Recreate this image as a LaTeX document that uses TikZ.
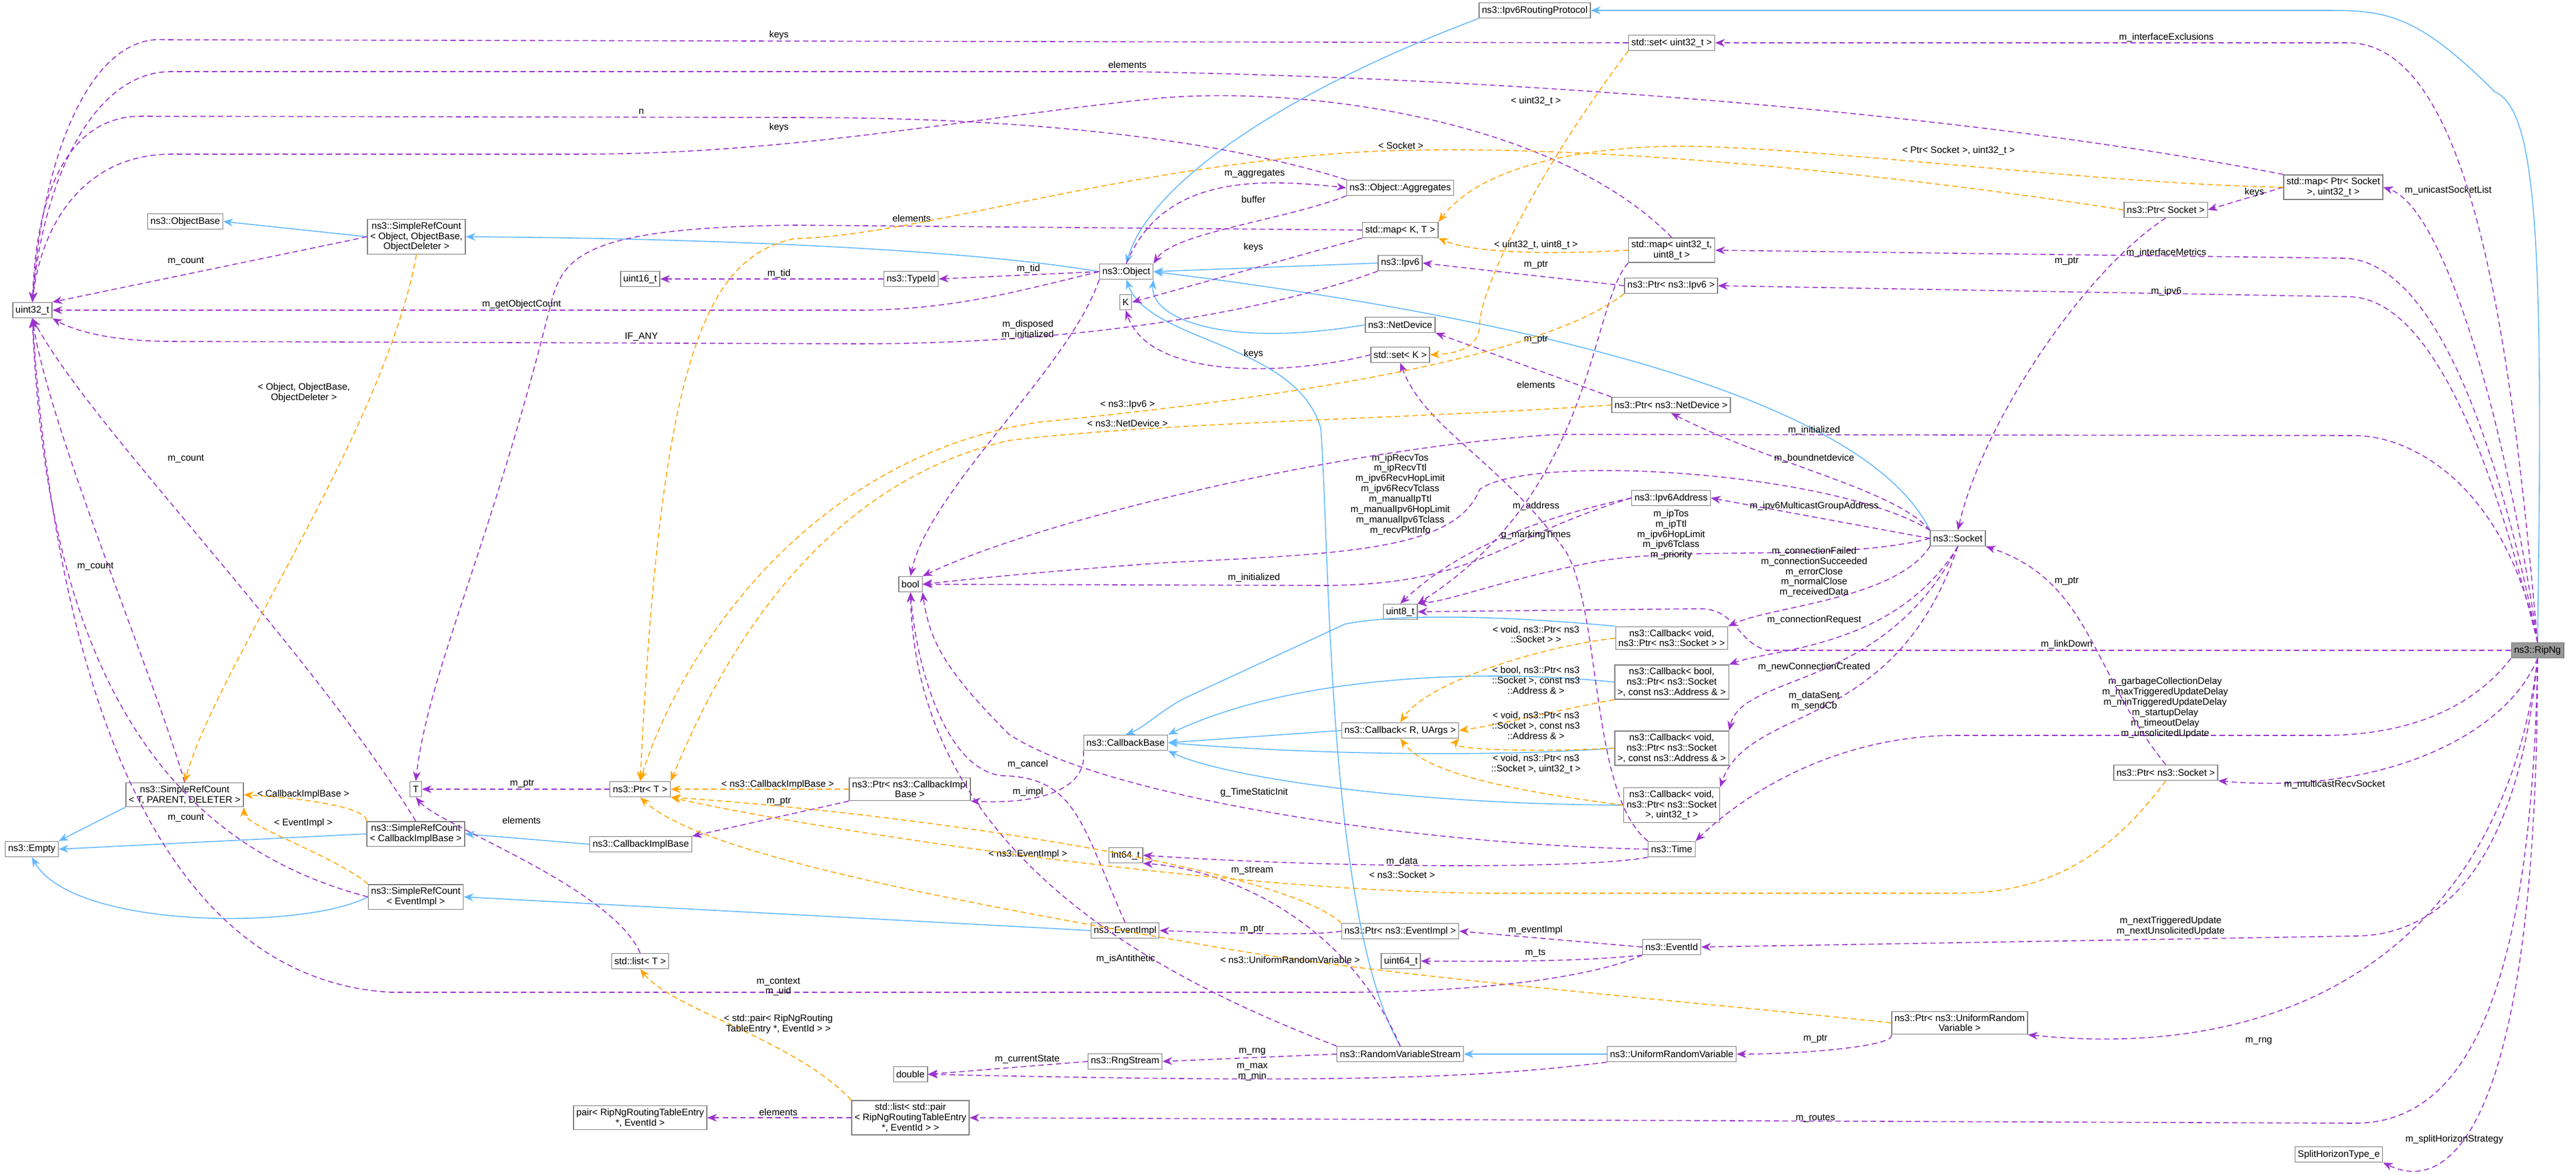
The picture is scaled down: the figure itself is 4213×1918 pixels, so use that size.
\documentclass[tikz,border=0pt]{standalone}
\usepackage{fontspec}
\setmainfont{Liberation Sans}
\usetikzlibrary{arrows.meta}
\definecolor{pu}{HTML}{9A32CD}
\definecolor{or}{HTML}{FFA500}
\definecolor{bl}{HTML}{63B8FF}
\newcommand{\fs}{\fontsize{4.4}{4.8}\selectfont}
\tikzset{
 box/.style={draw=black!50, fill=white, font=\fs, inner sep=1.3pt, minimum height=0.25cm, align=center, line width=0.4pt},
 lbl/.style={font=\fs, inner sep=0pt, align=center},
 use/.style={draw=pu, dashed, dash pattern=on 2.5pt off 1.6pt, line width=0.45pt, -{Stealth[length=4.5pt,width=3.6pt]}},
 tpl/.style={draw=or, dashed, dash pattern=on 2.5pt off 1.6pt, line width=0.45pt, -{Stealth[length=4.5pt,width=3.6pt]}},
 inh/.style={draw=bl, line width=0.45pt, -{Stealth[length=4.5pt,width=3.6pt]}},
}
\begin{document}
\begin{tikzpicture}[x=0.01cm,y=-0.01cm]
\useasboundingbox (0,0) rectangle (4213,1918);
% nodes
\node[box] (u32) at (53,507) {uint32\_t};
\node[box] (objbase) at (303,362) {ns3::ObjectBase};
\node[box] (srcobj) at (681,387) {ns3::SimpleRefCount\\< Object, ObjectBase,\\ObjectDeleter >};
\node[box] (u16) at (1047,456) {uint16\_t};
\node[box] (iv6rp) at (2510,17) {ns3::Ipv6RoutingProtocol};
\node[box] (setu32) at (2734,70) {std::set< uint32\_t >};
\node[box] (aggr) at (2290,307) {ns3::Object::Aggregates};
\node[box] (mapKT) at (2290,376) {std::map< K, T >};
\node[box] (obj) at (1842,444) {ns3::Object};
\node[box] (typeid) at (1490,456) {ns3::TypeId};
\node[box] (ipv6) at (2290,430) {ns3::Ipv6};
\node[box] (K) at (1841,494) {K};
\node[box] (netdev) at (2290,531) {ns3::NetDevice};
\node[box] (setK) at (2290,580) {std::set< K >};
\node[box] (mapu8) at (2734,409) {std::map< uint32\_t,\\uint8\_t >};
\node[box] (ptripv6) at (2733,467) {ns3::Ptr< ns3::Ipv6 >};
\node[box] (ptrnd) at (2733,662) {ns3::Ptr< ns3::NetDevice >};
\node[box] (mapps) at (3816,306) {std::map< Ptr< Socket\\>, uint32\_t >};
\node[box] (ptrsock) at (3542,343) {ns3::Ptr< Socket >};
\node[box] (srcT) at (302,1299) {ns3::SimpleRefCount\\< T, PARENT, DELETER >};
\node[box] (T) at (680,1290) {T};
\node[box] (ptrT) at (1047,1290) {ns3::Ptr< T >};
\node[box] (srccib) at (680,1363) {ns3::SimpleRefCount\\< CallbackImplBase >};
\node[box] (cib) at (1048,1380) {ns3::CallbackImplBase};
\node[box] (empty) at (52,1388) {ns3::Empty};
\node[box] (bool) at (1489,955) {bool};
\node[box] (u8) at (2290,1000) {uint8\_t};
\node[box] (ipv6addr) at (2733,814) {ns3::Ipv6Address};
\node[box] (cb1) at (2734,1043) {ns3::Callback< void,\\ns3::Ptr< ns3::Socket > >};
\node[box] (cb2) at (2734,1115) {ns3::Callback< bool,\\ns3::Ptr< ns3::Socket\\>, const ns3::Address \& >};
\node[box] (cbR) at (2290,1194) {ns3::Callback< R, UArgs >};
\node[box] (cbbase) at (1841,1214) {ns3::CallbackBase};
\node[box] (cb3) at (2734,1223) {ns3::Callback< void,\\ns3::Ptr< ns3::Socket\\>, const ns3::Address \& >};
\node[box] (cb4) at (2734,1316) {ns3::Callback< void,\\ns3::Ptr< ns3::Socket\\>, uint32\_t >};
\node[box] (time) at (2734,1388) {ns3::Time};
\node[box] (ptrcib) at (1488,1290) {ns3::Ptr< ns3::CallbackImpl\\Base >};
\node[box] (i64) at (1841,1398) {int64\_t};
\node[box] (socket) at (3202,880) {ns3::Socket};
\node[box, fill=black!40] (ripng) at (4150,1063) {ns3::RipNg};
\node[box] (ptrnsock) at (3542,1263) {ns3::Ptr< ns3::Socket >};
\node[box] (srcev) at (680,1466) {ns3::SimpleRefCount\\< EventImpl >};
\node[box] (evimpl) at (1840,1521) {ns3::EventImpl};
\node[box] (listT) at (1047,1571) {std::list< T >};
\node[box] (rng) at (1840,1735) {ns3::RngStream};
\node[box] (double) at (1489,1756) {double};
\node[box] (pair) at (1047,1827) {pair< RipNgRoutingTableEntry\\*, EventId >};
\node[box] (listpair) at (1489,1827) {std::list< std::pair\\< RipNgRoutingTableEntry\\*, EventId > >};
\node[box] (ptrev) at (2290,1522) {ns3::Ptr< ns3::EventImpl >};
\node[box] (eventid) at (2734,1548) {ns3::EventId};
\node[box] (u64) at (2291,1571) {uint64\_t};
\node[box] (ptrurv) at (3205,1672) {ns3::Ptr< ns3::UniformRandom\\Variable >};
\node[box] (rvs) at (2290,1723) {ns3::RandomVariableStream};
\node[box] (urv) at (2734,1723) {ns3::UniformRandomVariable};
\node[box] (split) at (3825,1887) {SplitHorizonType\_e};
% blue inheritance
\draw[inh] (srcobj.west) -- (objbase.east);
\draw[inh] (obj.west) .. controls (1600,410) and (1200,390) .. (srcobj.east);
\draw[inh] (iv6rp.south west) .. controls (2100,150) and (1880,300) .. (obj.north);
\draw[inh] (ipv6.west) -- (obj.east);
\draw[inh] (netdev.west) .. controls (2000,570) and (1880,520) .. (obj.south east);
\draw[inh] (socket.north west) .. controls (3050,650) and (2500,520) .. (obj.east);
\draw[inh] (ripng.north) .. controls (4160,400) and (4150,180) .. (4080,150) .. controls (3950,20) and (3900,17) .. (3800,17) -- (iv6rp.east);
\draw[inh] (srcT.south west) -- (empty.north east);
\draw[inh] (srccib.west) -- (empty.east);
\draw[inh] (srcev.west) .. controls (500,1520) and (120,1520) .. (empty.south);
\draw[inh] (cib.west) -- (srccib.east);
\draw[inh] (evimpl.west) -- (srcev.east);
\draw[inh] (cbR.west) -- (cbbase.east);
\draw[inh] (cb1.north west) .. controls (2500,1010) and (2300,1000) .. (2200,1020) -- (1940,1140) .. controls (1900,1160) and (1870,1190) .. (cbbase.north);
\draw[inh] (cb2.west) .. controls (2400,1090) and (2100,1110) .. (cbbase.north east);
\draw[inh] (cb3.west) .. controls (2400,1240) and (2100,1230) .. (cbbase.east);
\draw[inh] (cb4.west) .. controls (2300,1315) and (2000,1270) .. (cbbase.south east);
\draw[inh] (urv.west) -- (rvs.east);
\draw[inh] (rvs.north) .. controls (2170,1500) and (2175,900) .. (2160,700) .. controls (2120,560) and (1880,560) .. (obj.south);
% purple usage
\draw[use] (setu32.west) -- (270,65) .. controls (150,55) and (70,250) .. (u32.north);
\node[lbl] (l1) at (1274,57) {keys};
\draw[use] (mapps.north west) .. controls (3300,200) and (2600,130) .. (1844,117) -- (280,117) .. controls (150,117) and (70,300) .. (u32.north);
\node[lbl] (l2) at (1844,106) {elements};
\draw[use] (aggr.north west) .. controls (2000,230) and (1700,192) .. (1300,192) -- (230,190) .. controls (120,190) and (60,300) .. (u32.north);
\node[lbl] (l3) at (1049,182) {n};
\draw[use] (mapu8.north) .. controls (2550,200) and (2150,140) .. (1900,160) .. controls (1600,190) and (1300,252) .. (950,252) -- (280,252) .. controls (150,252) and (70,350) .. (u32.north);
\node[lbl] (l4) at (1274,208) {keys};
\draw[use] (srcobj.west) -- (u32.north east);
\node[lbl] (l5) at (304,427) {m\_count};
\draw[use] (obj.west) .. controls (1650,480) and (1550,507) .. (1400,507) -- (u32.east);
\node[lbl] (l6) at (853,497) {m\_getObjectCount};
\draw[use] (ipv6.south west) .. controls (2100,500) and (1800,562) .. (1400,562) -- (280,558) .. controls (180,558) and (120,540) .. (u32.south east);
\node[lbl] (l7) at (1049,551) {IF\_ANY};
\draw[use] (srcT.north) .. controls (250,1100) and (80,700) .. (u32.south);
\node[lbl] (l8) at (156,926) {m\_count};
\draw[use] (srccib.north) .. controls (500,1050) and (150,700) .. (u32.south);
\node[lbl] (l9) at (304,750) {m\_count};
\draw[use] (srcev.west) .. controls (350,1400) and (80,1200) .. (u32.south);
\node[lbl] (l10) at (304,1337) {m\_count};
\draw[use] (eventid.south west) .. controls (2600,1600) and (2400,1622) .. (2200,1622) -- (640,1622) .. controls (250,1600) and (90,1100) .. (u32.south);
\node[lbl] (l11) at (1273,1613) {m\_context\\m\_uid};
\draw[use] (obj.west) -- (typeid.east);
\node[lbl] (l12) at (1682,439) {m\_tid};
\draw[use] (typeid.west) -- (u16.east);
\node[lbl] (l13) at (1274,447) {m\_tid};
\draw[use] (obj.north) .. controls (1900,290) and (2050,290) .. (aggr.west);
\node[lbl] (l14) at (2052,284) {m\_aggregates};
\draw[use] (aggr.south west) .. controls (2100,360) and (1920,380) .. (obj.north east);
\node[lbl] (l15) at (2050,326) {buffer};
\draw[use] (mapKT.west) -- (1300,368) .. controls (950,372) and (920,420) .. (900,500) .. controls (800,900) and (700,1100) .. (T.north);
\node[lbl] (l16) at (1491,357) {elements};
\draw[use] (mapKT.south west) -- (K.east);
\node[lbl] (l17) at (2050,404) {keys};
\draw[use] (setK.west) .. controls (2100,615) and (1880,620) .. (K.south);
\node[lbl] (l18) at (2050,578) {keys};
\draw[use] (ptripv6.west) -- (ipv6.east);
\node[lbl] (l19) at (2512,433) {m\_ptr};
\draw[use] (ptrnd.north west) -- (netdev.south east);
\node[lbl] (l20) at (2512,555) {m\_ptr};
\draw[use] (mapu8.south west) .. controls (2600,500) and (2610,800) .. (u8.north east);
\node[lbl] (l21) at (2512,629) {elements};
\draw[use] (obj.south west) .. controls (1750,600) and (1520,800) .. (bool.north);
\node[lbl] (l22) at (1681,539) {m\_disposed\\m\_initialized};
\draw[use] (socket.north west) .. controls (3000,770) and (2500,740) .. (2420,800) .. controls (2380,900) and (2200,905) .. (1900,920) .. controls (1700,935) and (1600,945) .. (bool.east);
\node[lbl] (l23) at (2290,808) {m\_ipRecvTos\\m\_ipRecvTtl\\m\_ipv6RecvHopLimit\\m\_ipv6RecvTclass\\m\_manualIpTtl\\m\_manualIpv6HopLimit\\m\_manualIpv6Tclass\\m\_recvPktInfo};
\draw[use] (ripng.north) .. controls (4100,800) and (3950,712) .. (3850,712) -- (2550,710) .. controls (2200,730) and (1700,850) .. (bool.north east);
\node[lbl] (l24) at (2967,703) {m\_initialized};
\draw[use] (socket.west) -- (ipv6addr.east);
\node[lbl] (l25) at (2967,827) {m\_ipv6MulticastGroupAddress};
\draw[use] (ipv6addr.west) .. controls (2450,860) and (2350,930) .. (u8.north);
\node[lbl] (l26) at (2512,827) {m\_address};
\draw[use] (ipv6addr.west) .. controls (2450,880) and (2420,955) .. (2168,957) -- (bool.east);
\node[lbl] (l27) at (2051,944) {m\_initialized};
\draw[use] (socket.west) .. controls (3000,920) and (2750,890) .. (2600,920) .. controls (2450,950) and (2380,980) .. (u8.north east);
\node[lbl] (l28) at (2733,874) {m\_ipTos\\m\_ipTtl\\m\_ipv6HopLimit\\m\_ipv6Tclass\\m\_priority};
\draw[use] (ripng.west) -- (2890,1063) .. controls (2840,1050) and (2840,995) .. (2780,995) -- (u8.east);
\node[lbl] (l29) at (3380,1053) {m\_linkDown};
\draw[use] (time.north west) .. controls (2600,1300) and (2620,1000) .. (2560,900) .. controls (2450,750) and (2330,700) .. (setK.south);
\node[lbl] (l30) at (2512,874) {g\_markingTimes};
\draw[use] (time.west) .. controls (2300,1380) and (1800,1300) .. (1650,1200) .. controls (1550,1100) and (1520,1050) .. (bool.south east);
\node[lbl] (l31) at (2051,1295) {g\_TimeStaticInit};
\draw[use] (time.south west) .. controls (2600,1420) and (2200,1420) .. (i64.east);
\node[lbl] (l32) at (2293,1408) {m\_data};
\draw[use] (socket.north west) .. controls (3100,800) and (2900,760) .. (ptrnd.south);
\node[lbl] (l33) at (2967,749) {m\_boundnetdevice};
\draw[use] (socket.south west) .. controls (3100,980) and (2900,990) .. (cb1.north east);
\node[lbl] (l34) at (2967,935) {m\_connectionFailed\\m\_connectionSucceeded\\m\_errorClose\\m\_normalClose\\m\_receivedData};
\draw[use] (socket.south) .. controls (3100,1060) and (2900,1060) .. (cb2.north east);
\node[lbl] (l35) at (2967,1013) {m\_connectionRequest};
\draw[use] (socket.south) .. controls (3080,1130) and (2850,1100) .. (cb3.north east);
\node[lbl] (l36) at (2967,1090) {m\_newConnectionCreated};
\draw[use] (socket.south) .. controls (3100,1200) and (2860,1150) .. (cb4.north east);
\node[lbl] (l37) at (2967,1146) {m\_dataSent\\m\_sendCb};
\draw[use] (ripng.south west) .. controls (4050,1150) and (3950,1202) .. (3800,1202) -- (3200,1202) .. controls (3000,1202) and (2850,1300) .. (time.north east);
\node[lbl] (l38) at (3541,1157) {m\_garbageCollectionDelay\\m\_maxTriggeredUpdateDelay\\m\_minTriggeredUpdateDelay\\m\_startupDelay\\m\_timeoutDelay\\m\_unsolicitedUpdate};
\draw[use] (ripng.south) .. controls (4100,1200) and (3900,1300) .. (ptrnsock.south east);
\node[lbl] (l39) at (3818,1282) {m\_multicastRecvSocket};
\draw[use] (ptrnsock.north) .. controls (3420,1100) and (3420,950) .. (socket.south east);
\node[lbl] (l40) at (3380,950) {m\_ptr};
\draw[use] (ptrsock.south) .. controls (3400,450) and (3240,700) .. (socket.north);
\node[lbl] (l41) at (3380,427) {m\_ptr};
\draw[use] (mapps.west) -- (ptrsock.east);
\node[lbl] (l42) at (3687,314) {keys};
\draw[use] (ripng.north) .. controls (4100,700) and (4000,340) .. (mapps.east);
\node[lbl] (l43) at (4004,311) {m\_unicastSocketList};
\draw[use] (ripng.north) .. controls (4110,600) and (4050,70) .. (3840,70) -- (setu32.east);
\node[lbl] (l44) at (3543,61) {m\_interfaceExclusions};
\draw[use] (ripng.north) .. controls (4100,800) and (4000,422) .. (3830,422) -- (mapu8.east);
\node[lbl] (l45) at (3543,413) {m\_interfaceMetrics};
\draw[use] (ripng.north) .. controls (4100,850) and (4000,485) .. (3840,485) -- (ptripv6.east);
\node[lbl] (l46) at (3543,476) {m\_ipv6};
\draw[use] (ripng.south) .. controls (4120,1400) and (4000,1530) .. (3850,1530) -- (eventid.east);
\node[lbl] (l47) at (3550,1514) {m\_nextTriggeredUpdate\\m\_nextUnsolicitedUpdate};
\draw[use] (ripng.south) .. controls (4100,1500) and (3800,1740) .. (ptrurv.south east);
\node[lbl] (l48) at (3694,1702) {m\_rng};
\draw[use] (ripng.south) .. controls (4140,1700) and (4000,1836) .. (3850,1836) -- (listpair.east);
\node[lbl] (l49) at (2969,1828) {m\_routes};
\draw[use] (ripng.south) .. controls (4150,1800) and (4020,1960) .. (split.south east);
\node[lbl] (l50) at (4014,1862) {m\_splitHorizonStrategy};
\draw[use] (ptrT.west) -- (T.east);
\node[lbl] (l51) at (854,1281) {m\_ptr};
\draw[use] (listT.north) .. controls (1000,1450) and (720,1350) .. (T.south);
\node[lbl] (l52) at (853,1341) {elements};
\draw[use] (ptrcib.south west) -- (cib.north east);
\node[lbl] (l53) at (1274,1310) {m\_ptr};
\draw[use] (cbbase.south west) .. controls (1780,1290) and (1700,1315) .. (ptrcib.south east);
\node[lbl] (l54) at (1681,1294) {m\_impl};
\draw[use] (evimpl.north) .. controls (1770,1350) and (1760,1270) .. (1640,1268) .. controls (1550,1260) and (1500,1100) .. (bool.south);
\node[lbl] (l55) at (1681,1249) {m\_cancel};
\draw[use] (rvs.north west) .. controls (1900,1600) and (1500,1400) .. (bool.south);
\node[lbl] (l56) at (1841,1567) {m\_isAntithetic};
\draw[use] (rvs.north) .. controls (2200,1500) and (2000,1420) .. (i64.south east);
\node[lbl] (l57) at (2048,1423) {m\_stream};
\draw[use] (rvs.west) -- (rng.east);
\node[lbl] (l58) at (2048,1719) {m\_rng};
\draw[use] (rng.west) -- (double.east);
\node[lbl] (l59) at (1680,1732) {m\_currentState};
\draw[use] (urv.south west) .. controls (2400,1765) and (2150,1770) .. (double.east);
\node[lbl] (l60) at (2048,1752) {m\_max\\m\_min};
\draw[use] (ptrurv.south west) .. controls (3100,1710) and (2950,1723) .. (urv.east);
\node[lbl] (l61) at (2969,1698) {m\_ptr};
\draw[use] (ptrev.west) .. controls (2150,1530) and (2000,1525) .. (evimpl.east);
\node[lbl] (l62) at (2048,1519) {m\_ptr};
\draw[use] (eventid.west) -- (ptrev.east);
\node[lbl] (l63) at (2511,1520) {m\_eventImpl};
\draw[use] (eventid.south west) .. controls (2600,1570) and (2500,1572) .. (u64.east);
\node[lbl] (l64) at (2511,1558) {m\_ts};
\draw[use] (listpair.west) -- (pair.east);
\node[lbl] (l65) at (1273,1818) {elements};
% orange templates
\draw[tpl] (srcobj.south) .. controls (630,700) and (350,1100) .. (srcT.north);
\node[lbl] (l66) at (497,642) {< Object, ObjectBase,\\ObjectDeleter >};
\draw[tpl] (srccib.north west) .. controls (600,1320) and (500,1305) .. (srcT.east);
\node[lbl] (l67) at (496,1298) {< CallbackImplBase >};
\draw[tpl] (srcev.north west) .. controls (550,1400) and (400,1350) .. (srcT.south east);
\node[lbl] (l68) at (496,1345) {< EventImpl >};
\draw[tpl] (setu32.south west) .. controls (2500,300) and (2420,480) .. (2420,530) .. controls (2420,570) and (2380,578) .. (setK.east);
\node[lbl] (l69) at (2512,165) {< uint32\_t >};
\draw[tpl] (mapu8.west) .. controls (2500,418) and (2400,410) .. (mapKT.south east);
\node[lbl] (l70) at (2512,400) {< uint32\_t, uint8\_t >};
\draw[tpl] (mapps.west) .. controls (3400,300) and (2900,230) .. (2700,240) .. controls (2500,250) and (2400,300) .. (mapKT.north east);
\node[lbl] (l71) at (3203,246) {< Ptr< Socket >, uint32\_t >};
\draw[tpl] (ptrsock.west) .. controls (3000,270) and (2500,230) .. (2200,250) .. controls (1800,280) and (1500,385) .. (1300,390) .. controls (1150,420) and (1080,600) .. (ptrT.north);
\node[lbl] (l72) at (2291,238) {< Socket >};
\draw[tpl] (ptripv6.south west) .. controls (2500,600) and (2000,660) .. (1700,690) .. controls (1300,750) and (1100,1100) .. (ptrT.north);
\node[lbl] (l73) at (1844,662) {< ns3::Ipv6 >};
\draw[tpl] (ptrnd.west) .. controls (2300,685) and (1900,690) .. (1650,720) .. controls (1300,800) and (1150,1150) .. (ptrT.north east);
\node[lbl] (l74) at (1844,692) {< ns3::NetDevice >};
\draw[tpl] (ptrcib.west) -- (ptrT.east);
\node[lbl] (l75) at (1272,1282) {< ns3::CallbackImplBase >};
\draw[tpl] (ptrev.north west) .. controls (2100,1420) and (1500,1330) .. (ptrT.south east);
\node[lbl] (l76) at (1681,1396) {< ns3::EventImpl >};
\draw[tpl] (ptrnsock.south) .. controls (3450,1400) and (3350,1460) .. (3200,1460) -- (2450,1460) .. controls (2000,1460) and (1300,1350) .. (ptrT.south east);
\node[lbl] (l77) at (2293,1430) {< ns3::Socket >};
\draw[tpl] (ptrurv.west) .. controls (2800,1640) and (2300,1600) .. (2000,1550) .. controls (1600,1480) and (1150,1400) .. (ptrT.south);
\node[lbl] (l78) at (2110,1569) {< ns3::UniformRandomVariable >};
\draw[tpl] (cb1.west) .. controls (2500,1060) and (2330,1120) .. (cbR.north);
\node[lbl] (l79) at (2512,1037) {< void, ns3::Ptr< ns3\\::Socket > >};
\draw[tpl] (cb2.south west) .. controls (2550,1160) and (2450,1185) .. (cbR.east);
\node[lbl] (l80) at (2512,1112) {< bool, ns3::Ptr< ns3\\::Socket >, const ns3\\::Address \& >};
\draw[tpl] (cb3.west) .. controls (2500,1230) and (2370,1225) .. (cbR.south east);
\node[lbl] (l81) at (2512,1186) {< void, ns3::Ptr< ns3\\::Socket >, const ns3\\::Address \& >};
\draw[tpl] (cb4.west) .. controls (2450,1290) and (2330,1260) .. (cbR.south);
\node[lbl] (l82) at (2512,1249) {< void, ns3::Ptr< ns3\\::Socket >, uint32\_t >};
\draw[tpl] (listpair.north west) .. controls (1300,1700) and (1100,1650) .. (listT.south);
\node[lbl] (l83) at (1273,1674) {< std::pair< RipNgRouting\\TableEntry *, EventId > >};
\end{tikzpicture}
\end{document}
